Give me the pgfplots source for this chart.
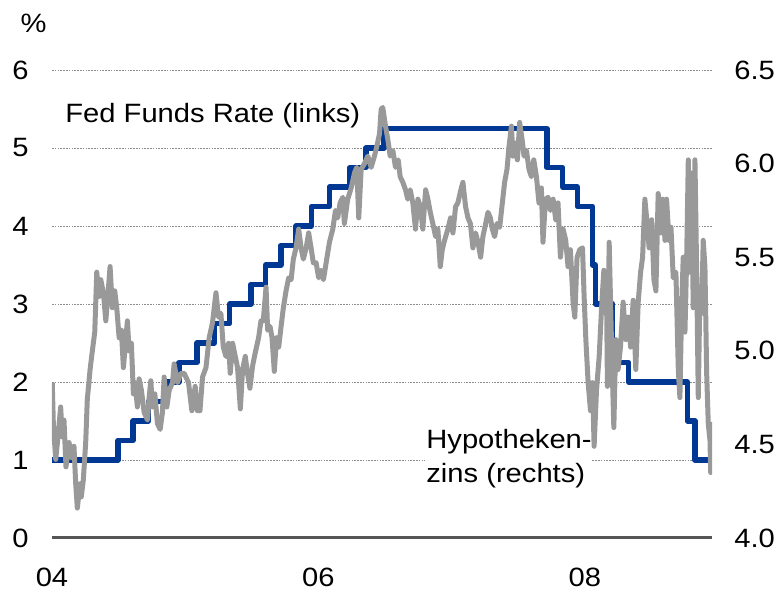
\documentclass[border=0pt]{standalone}
\usepackage{fontspec}
\setmainfont{Liberation Sans}[FakeStretch=1.1]
\usepackage{pgfplots}
\pgfplotsset{compat=1.18}
\usepackage{pgfplotstable}
\definecolor{fedblue}{RGB}{0,56,147}
\definecolor{mortgray}{RGB}{153,153,153}
\definecolor{zerogray}{RGB}{85,85,85}
\definecolor{gridgray}{RGB}{140,140,140}

\pgfplotstableread{
year rate
2004.000 1.00
2004.495 1.25
2004.609 1.50
2004.724 1.75
2004.861 2.00
2004.954 2.25
2005.088 2.50
2005.219 2.75
2005.334 3.00
2005.493 3.25
2005.603 3.50
2005.718 3.75
2005.833 4.00
2005.948 4.25
2006.082 4.50
2006.236 4.75
2006.356 5.00
2006.493 5.25
2007.715 4.75
2007.833 4.50
2007.945 4.25
2008.057 3.50
2008.079 3.00
2008.210 2.25
2008.330 2.00
2008.770 1.50
2008.827 1.00
2008.950 1.00
}\fedtable

\pgfplotstableread{
year rate
2004.002 4.83
2004.010 4.61
2004.028 4.42
2004.045 4.54
2004.065 4.70
2004.077 4.54
2004.090 4.63
2004.105 4.38
2004.128 4.51
2004.145 4.43
2004.165 4.49
2004.178 4.29
2004.190 4.16
2004.211 4.29
2004.220 4.22
2004.235 4.31
2004.253 4.51
2004.265 4.74
2004.286 4.90
2004.303 5.00
2004.321 5.10
2004.336 5.42
2004.353 5.29
2004.366 5.38
2004.386 5.31
2004.404 5.16
2004.421 5.31
2004.436 5.45
2004.453 5.23
2004.471 5.32
2004.486 5.23
2004.504 5.07
2004.521 5.11
2004.536 4.91
2004.554 5.06
2004.566 5.16
2004.579 5.00
2004.596 5.04
2004.611 4.77
2004.624 4.83
2004.641 4.70
2004.654 4.85
2004.671 4.79
2004.692 4.67
2004.717 4.63
2004.729 4.75
2004.742 4.84
2004.754 4.70
2004.772 4.77
2004.792 4.61
2004.812 4.58
2004.829 4.67
2004.842 4.86
2004.862 4.70
2004.880 4.79
2004.905 4.83
2004.917 4.93
2004.942 4.83
2004.968 4.88
2004.992 4.88
2005.025 4.83
2005.050 4.68
2005.075 4.81
2005.092 4.68
2005.111 4.68
2005.130 4.86
2005.156 4.91
2005.180 5.07
2005.205 5.15
2005.231 5.31
2005.250 5.18
2005.268 5.20
2005.286 5.02
2005.306 4.97
2005.326 5.04
2005.338 4.88
2005.356 5.04
2005.376 4.97
2005.393 4.91
2005.414 4.69
2005.431 4.90
2005.451 4.97
2005.468 4.88
2005.486 4.80
2005.506 4.92
2005.526 4.99
2005.551 5.07
2005.569 5.16
2005.586 5.16
2005.607 5.34
2005.619 5.11
2005.637 5.13
2005.652 5.07
2005.669 4.89
2005.686 5.07
2005.702 5.02
2005.720 5.13
2005.737 5.23
2005.757 5.32
2005.777 5.39
2005.795 5.38
2005.812 5.49
2005.832 5.55
2005.852 5.65
2005.870 5.55
2005.887 5.49
2005.908 5.55
2005.927 5.63
2005.945 5.55
2005.962 5.47
2005.983 5.47
2006.002 5.39
2006.020 5.43
2006.038 5.38
2006.058 5.47
2006.083 5.58
2006.108 5.65
2006.128 5.75
2006.145 5.71
2006.163 5.79
2006.183 5.82
2006.195 5.68
2006.220 5.81
2006.246 5.87
2006.271 5.95
2006.288 5.98
2006.303 5.71
2006.321 5.97
2006.346 6.00
2006.371 6.04
2006.396 5.98
2006.421 6.04
2006.438 6.09
2006.459 6.16
2006.471 6.29
2006.483 6.30
2006.504 6.20
2006.521 6.13
2006.539 6.04
2006.559 6.07
2006.579 5.98
2006.599 6.02
2006.614 5.93
2006.634 5.90
2006.654 5.86
2006.671 5.81
2006.689 5.86
2006.709 5.79
2006.729 5.65
2006.747 5.81
2006.765 5.77
2006.784 5.65
2006.805 5.86
2006.822 5.81
2006.840 5.74
2006.859 5.68
2006.880 5.61
2006.897 5.65
2006.915 5.45
2006.930 5.54
2006.947 5.59
2006.972 5.65
2006.992 5.71
2007.010 5.63
2007.030 5.77
2007.047 5.79
2007.073 5.87
2007.085 5.90
2007.105 5.77
2007.123 5.71
2007.141 5.68
2007.160 5.55
2007.180 5.63
2007.198 5.58
2007.218 5.50
2007.235 5.61
2007.256 5.68
2007.273 5.74
2007.291 5.71
2007.306 5.65
2007.323 5.61
2007.341 5.68
2007.361 5.66
2007.381 5.79
2007.398 5.90
2007.416 5.97
2007.431 6.09
2007.449 6.20
2007.461 6.04
2007.479 6.11
2007.494 6.02
2007.511 6.22
2007.529 6.13
2007.544 6.04
2007.562 6.07
2007.581 5.97
2007.599 5.93
2007.617 6.02
2007.637 5.93
2007.656 5.79
2007.674 5.87
2007.686 5.58
2007.705 5.81
2007.724 5.82
2007.742 5.75
2007.762 5.81
2007.782 5.70
2007.799 5.79
2007.817 5.50
2007.837 5.65
2007.857 5.59
2007.874 5.45
2007.892 5.54
2007.912 5.26
2007.925 5.18
2007.942 5.50
2007.962 5.54
2007.983 5.55
2007.995 5.29
2008.008 5.06
2008.025 4.83
2008.043 4.68
2008.058 4.83
2008.070 4.49
2008.088 4.79
2008.108 4.97
2008.126 5.23
2008.143 5.43
2008.163 5.32
2008.170 4.81
2008.183 5.58
2008.200 5.06
2008.218 4.59
2008.233 5.06
2008.250 4.90
2008.268 5.02
2008.288 5.26
2008.308 5.06
2008.326 5.18
2008.344 5.02
2008.363 5.27
2008.383 4.90
2008.401 5.26
2008.419 5.42
2008.434 5.50
2008.451 5.81
2008.468 5.68
2008.483 5.55
2008.502 5.70
2008.519 5.38
2008.534 5.32
2008.551 5.84
2008.569 5.63
2008.584 5.81
2008.602 5.59
2008.614 5.81
2008.632 5.59
2008.647 5.66
2008.664 5.39
2008.684 5.42
2008.702 4.90
2008.714 4.75
2008.727 5.23
2008.739 5.50
2008.752 5.10
2008.765 5.50
2008.777 6.02
2008.789 5.42
2008.802 5.95
2008.814 5.23
2008.827 6.02
2008.840 5.42
2008.852 4.75
2008.865 5.34
2008.877 5.20
2008.889 5.59
2008.902 5.45
2008.915 4.88
2008.927 4.61
2008.940 4.52
2008.945 4.35
2008.952 4.62
}\morttable

\begin{document}
\begin{tikzpicture}
\useasboundingbox (-26pt,-26.5pt) rectangle (362.5pt,269pt);
\pgfplotsset{every axis/.append style={
  scale only axis, width=330pt, height=234pt,
  xmin=2004, xmax=2008.955,
  at={(0,0)}, anchor=south west,
  axis line style={draw=none}, tick style={draw=none},
  /pgf/number format/assume math mode=true,
  tick label style={font=\fontsize{13.25}{16}\selectfont},
}}
\begin{axis}[
  ymin=0, ymax=6, ytick={0,1,...,6},
  xtick={2004,2006,2008}, xticklabels={04,06,08},
  xticklabel style={anchor=north, inner sep=0pt, yshift=-14.8pt},
  yticklabel style={anchor=east, inner sep=0pt, xshift=-11.5pt},
  ymajorgrids, grid style={gridgray, line width=0.45pt, dash pattern=on 0.8pt off 0.6pt},
]
\fill[white] (axis cs:2006.80,0.60) rectangle (axis cs:2008.05,1.45);
\addplot[const plot mark left, fedblue, line width=2.7pt, line join=round] table[x=year, y=rate] {\fedtable};
\draw[zerogray, line width=2.5pt] (axis cs:2004,0) -- (axis cs:2008.955,0);
\end{axis}
\begin{axis}[
  ymin=4, ymax=6.5, ytick={4,4.5,...,6.5},
  xtick=\empty,
  yticklabel pos=right,
  yticklabel style={anchor=west, inner sep=0pt, xshift=11pt,
    /pgf/number format/.cd, fixed, fixed zerofill, precision=1},
]
\addplot[mortgray, line width=2.5pt, line join=round] table[x=year, y=rate] {\morttable};
\end{axis}
\begin{scope}[font=\fontsize{13.25}{16}\selectfont]
\node[anchor=center, inner sep=0pt] at (-9.25pt,257.5pt) {\%};
\node[anchor=base west, inner sep=0pt] at (6.5pt,207.9pt) {Fed Funds Rate (links)};
\node[anchor=base west, inner sep=0pt] at (187pt,45pt) {Hypotheken-};
\node[anchor=base west, inner sep=0pt] at (187pt,28pt) {zins (rechts)};
\end{scope}
\end{tikzpicture}
\end{document}
